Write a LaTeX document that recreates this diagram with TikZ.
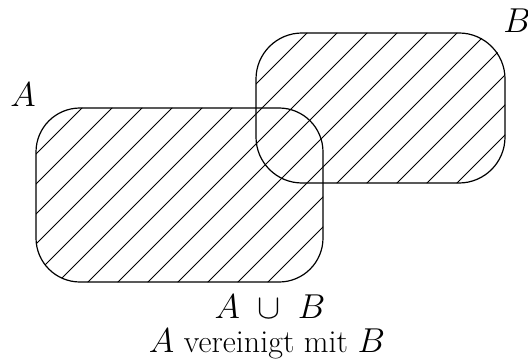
\documentclass[tikz,border=0pt]{standalone}
\usepackage{tikz}
\usetikzlibrary{positioning}

\begin{document}
\begin{tikzpicture}[
    x=0.5pt, y=-0.5pt,
    setline/.style={line width=0.6pt},
    hatch/.style={line width=0.4pt},
    lbl/.style={font=\fontsize{16}{19}\selectfont, inner sep=0pt, anchor=base},
  ]
  \useasboundingbox (0,0) rectangle (528,363);

  % hatching over the union of both sets
  \begin{scope}
    \clip[rounded corners=22pt] (36,108) rectangle (323,282)
                                (256,33) rectangle (505,183);
    \foreach \c in {10,40,...,850}
      \draw[hatch] (\c,0) -- ++(-420,420);
  \end{scope}

  % outlines of A and B
  \draw[setline, rounded corners=22pt] (36,108) rectangle (323,282);
  \draw[setline, rounded corners=23pt] (256,33) rectangle (505,183);

  % set names and caption
  \node[lbl] (nameA) at (23,107) {$A$};
  \node[lbl] (nameB) at (517,33) {$B$};
  \node[lbl] (union) at (270,318) {$A\ \cup\ B$};
  \node[lbl] (caption) at (267,352) {$A$ vereinigt mit $B$};
\end{tikzpicture}
\end{document}
